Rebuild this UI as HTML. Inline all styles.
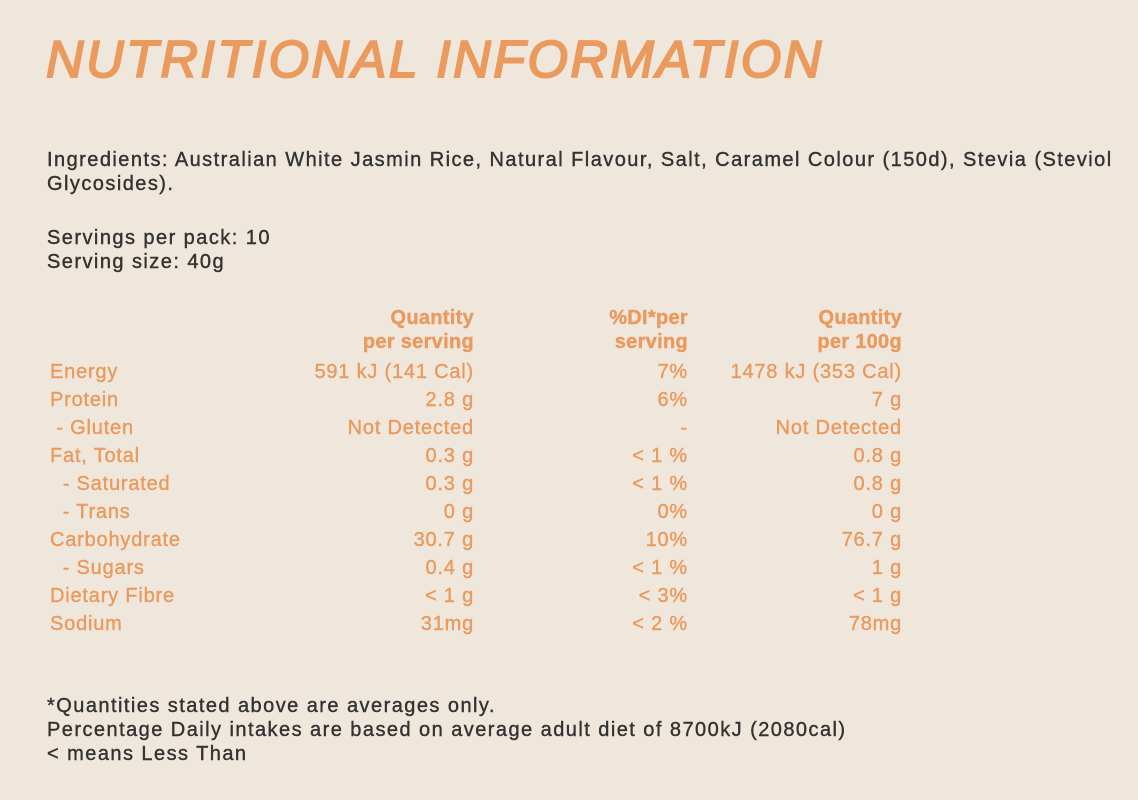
<!DOCTYPE html>
<html><head><style>
body{margin:0;width:1138px;height:800px;background:#f0e7dc;position:relative;overflow:hidden;font-family:"Liberation Sans",sans-serif;}
.t{position:absolute;white-space:nowrap;}
.title{left:46px;top:30px;font-size:52px;font-style:italic;font-weight:normal;color:#eb9a5e;letter-spacing:2.5px;-webkit-text-stroke:2px #eb9a5e;}
.d{color:#333;font-size:20px;letter-spacing:1.45px;line-height:24px;-webkit-text-stroke:0.4px #333;}
.o{color:#eb9a5e;font-size:20px;line-height:28px;letter-spacing:0.8px;-webkit-text-stroke:0.4px #eb9a5e;}
.r{text-align:right;}
</style></head><body>
<div class="t title">NUTRITIONAL INFORMATION</div>
<div class="t d" style="left:47px;top:148px;">Ingredients: Australian White Jasmin Rice, Natural Flavour, Salt, Caramel Colour (150d), Stevia (Steviol<br>Glycosides).</div>
<div class="t d" style="left:47px;top:226px;">Servings per pack: 10<br>Serving size: 40g</div>
<div class="t o r" style="right:664px;top:306px;line-height:24px;font-weight:bold;letter-spacing:0.3px;">Quantity<br>per serving</div>
<div class="t o r" style="right:450px;top:306px;line-height:24px;font-weight:bold;letter-spacing:0.3px;">%DI*per<br>serving</div>
<div class="t o r" style="right:236px;top:306px;line-height:24px;font-weight:bold;letter-spacing:0.3px;">Quantity<br>per 100g</div>
<div class="t o" style="left:50px;top:358px;">Energy<br>Protein<br>&nbsp;- Gluten<br>Fat, Total<br>&nbsp;&nbsp;- Saturated<br>&nbsp;&nbsp;- Trans<br>Carbohydrate<br>&nbsp;&nbsp;- Sugars<br>Dietary Fibre<br>Sodium</div>
<div class="t o r" style="right:664px;top:358px;">591 kJ (141 Cal)<br>2.8 g<br>Not Detected<br>0.3 g<br>0.3 g<br>0 g<br>30.7 g<br>0.4 g<br>&lt; 1 g<br>31mg</div>
<div class="t o r" style="right:450px;top:358px;">7%<br>6%<br>-<br>&lt; 1 %<br>&lt; 1 %<br>0%<br>10%<br>&lt; 1 %<br>&lt; 3%<br>&lt; 2 %</div>
<div class="t o r" style="right:236px;top:358px;">1478 kJ (353 Cal)<br>7 g<br>Not Detected<br>0.8 g<br>0.8 g<br>0 g<br>76.7 g<br>1 g<br>&lt; 1 g<br>78mg</div>
<div class="t d" style="left:47px;top:694px;">*Quantities stated above are averages only.<br>Percentage Daily intakes are based on average adult diet of 8700kJ (2080cal)<br>&lt; means Less Than</div>
</body></html>
